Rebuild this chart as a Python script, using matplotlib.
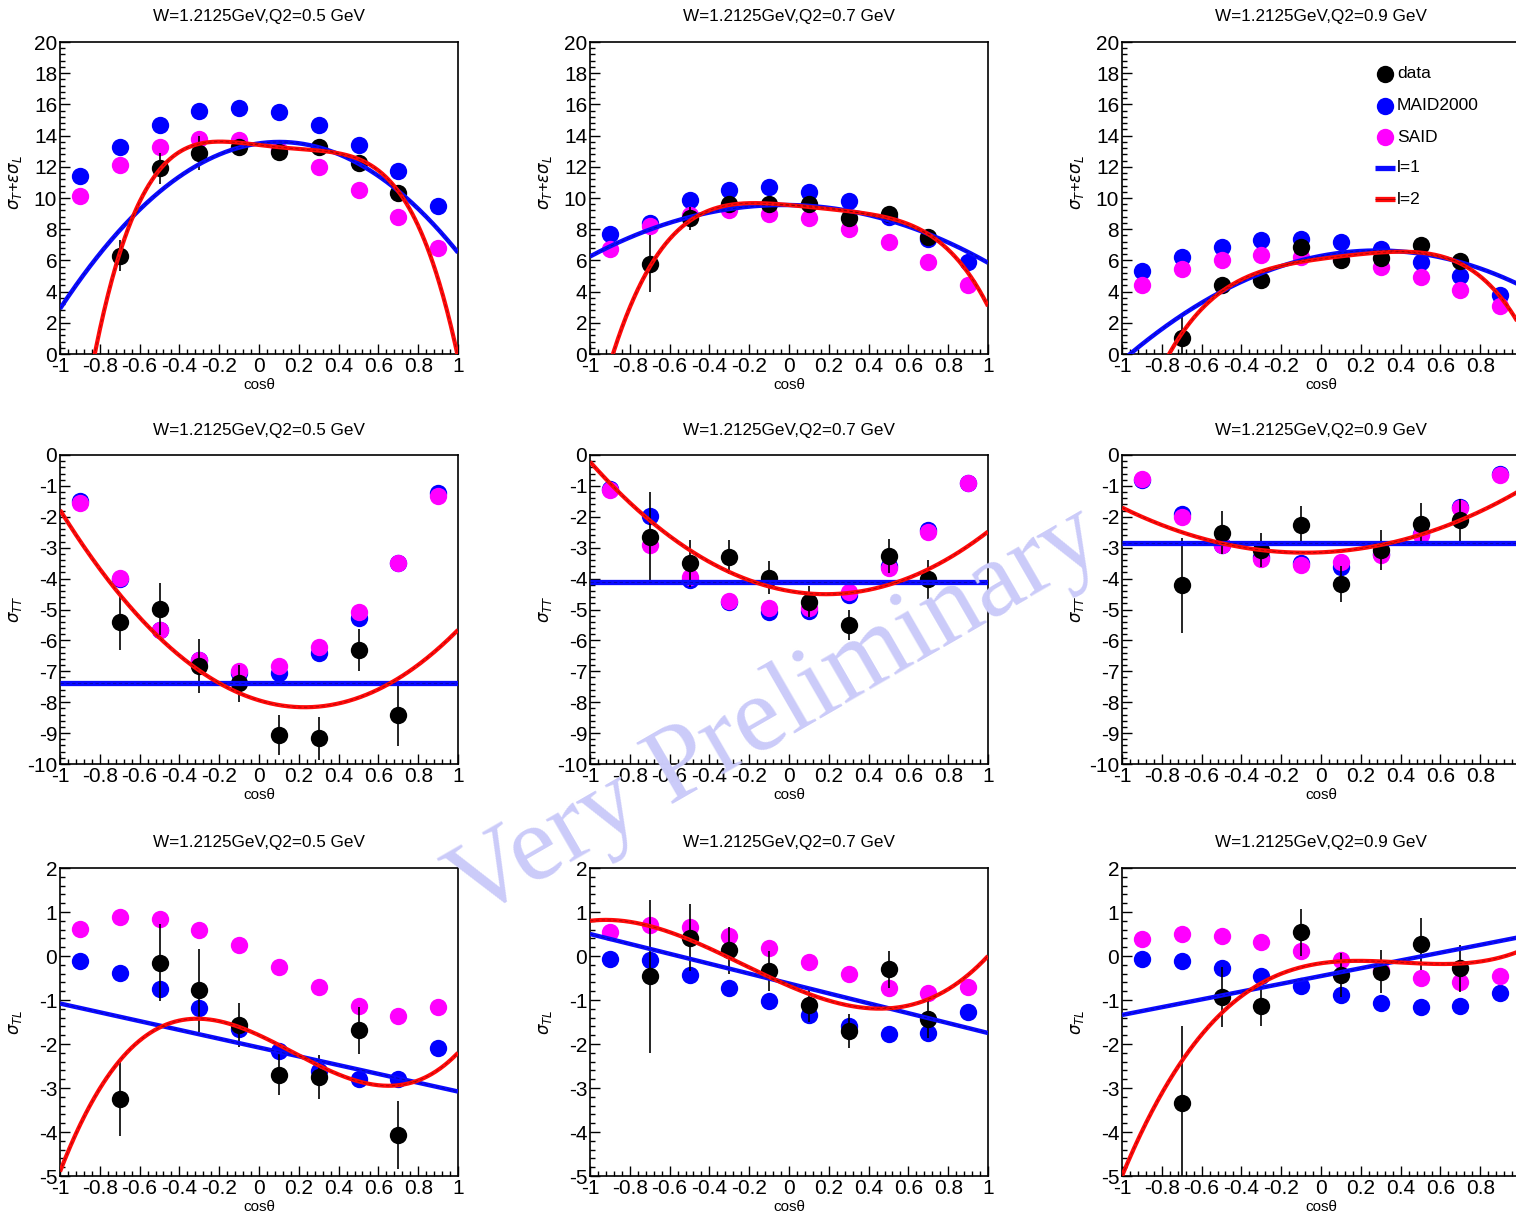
import numpy as np
import matplotlib
matplotlib.use("Agg")
import matplotlib.pyplot as plt
from matplotlib.ticker import MultipleLocator, FuncFormatter
from matplotlib.lines import Line2D

plt.rcParams['font.family'] = ['Liberation Sans', 'DejaVu Sans']
plt.rcParams['axes.unicode_minus'] = False
plt.rcParams['mathtext.fontset'] = 'dejavusans'

nan = np.nan

# ---------------------------------------------------------------------------
# Angular bins (cos theta) and kinematics
# ---------------------------------------------------------------------------
cos_theta = [-0.9, -0.7, -0.5, -0.3, -0.1, 0.1, 0.3, 0.5, 0.7, 0.9]
w_value = "1.2125"
q2_values = ["0.5", "0.7", "0.9"]

# ---------------------------------------------------------------------------
# sigma_T + eps*sigma_L
# ---------------------------------------------------------------------------
sTL_data_q05 = [nan, 6.3, 11.9, 12.9, 13.3, 12.95, 13.3, 12.25, 10.35, nan]
sTL_err_q05 = [nan, 1.0, 1.0, 1.1, 0.3, 0.3, 0.3, 0.3, 0.4, nan]
sTL_maid_q05 = [11.4, 13.3, 14.7, 15.6, 15.8, 15.5, 14.7, 13.4, 11.7, 9.5]
sTL_said_q05 = [10.15, 12.1, 13.3, 13.8, 13.75, 13.1, 12.0, 10.5, 8.8, 6.8]
sTL_l1_q05 = [13.5, 1.8, -8.8]
sTL_l2_q05 = [13.4, -1.53, 0.33, 8.9, -21.3]

sTL_data_q07 = [nan, 5.8, 8.7, 9.6, 9.6, 9.6, 8.7, 9.0, 7.5, nan]
sTL_err_q07 = [nan, 1.85, 0.75, 0.4, 0.3, 0.3, 0.3, 0.3, 0.3, nan]
sTL_maid_q07 = [7.7, 8.4, 9.9, 10.5, 10.7, 10.4, 9.8, 8.8, 7.4, 5.9]
sTL_said_q07 = [6.7, 8.2, 8.9, 9.25, 9.0, 8.7, 8.0, 7.15, 5.9, 4.4]
sTL_l1_q07 = [9.55, -0.2, -3.5]
sTL_l2_q07 = [9.55, -1.155, -1.35, 5.42, -9.4]

sTL_data_q09 = [nan, 1.0, 4.45, 4.75, 6.85, 6.0, 6.15, 7.0, 5.95, nan]
sTL_err_q09 = [nan, 1.6, 0.45, 0.3, 0.3, 0.3, 0.3, 0.3, 0.3, nan]
sTL_maid_q09 = [5.3, 6.25, 6.85, 7.3, 7.4, 7.2, 6.75, 5.9, 5.0, 3.8]
sTL_said_q09 = [4.45, 5.45, 6.0, 6.35, 6.2, 6.1, 5.6, 4.95, 4.1, 3.05]
sTL_l1_q09 = [6.29, 2.43, -4.3]
sTL_l2_q09 = [6.1, 1.756, -1.52, 2.976, -7.52]

# ---------------------------------------------------------------------------
# sigma_TT
# ---------------------------------------------------------------------------
sTT_data_q05 = [nan, -5.39, -4.99, -6.83, -7.39, -9.06, -9.17, -6.31, -8.41, nan]
sTT_err_q05 = [nan, 0.93, 0.85, 0.88, 0.6, 0.65, 0.7, 0.68, 1.0, nan]
sTT_maid_q05 = [-1.5, -4.0, -5.65, -6.65, -7.05, -7.07, -6.42, -5.29, -3.48, -1.22]
sTT_said_q05 = [-1.54, -3.99, -5.66, -6.63, -6.99, -6.83, -6.2, -5.07, -3.5, -1.33]
sTT_l1_q05 = [-7.37]
sTT_l2_q05 = [-7.94, -1.94, 4.22]

sTT_data_q07 = [nan, -2.66, -3.51, -3.29, -3.97, -4.75, -5.5, -3.27, -4.02, nan]
sTT_err_q07 = [nan, 1.45, 0.75, 0.55, 0.53, 0.5, 0.5, 0.55, 0.63, nan]
sTT_maid_q07 = [-1.1, -1.97, -4.05, -4.75, -5.07, -5.05, -4.53, -3.59, -2.43, -0.9]
sTT_said_q07 = [-1.13, -2.91, -3.94, -4.71, -4.96, -4.96, -4.42, -3.67, -2.48, -0.92]
sTT_l1_q07 = [-4.1]
sTT_l2_q07 = [-4.40, -1.13, 3.05]

sTT_data_q09 = [nan, -4.22, -2.52, -3.08, -2.25, -4.18, -3.08, -2.22, -2.11, nan]
sTT_err_q09 = [nan, 1.53, 0.7, 0.55, 0.6, 0.58, 0.65, 0.67, 0.67, nan]
sTT_maid_q09 = [-0.8, -1.91, -2.9, -3.3, -3.5, -3.62, -3.2, -2.55, -1.68, -0.63]
sTT_said_q09 = [-0.79, -2.0, -2.92, -3.37, -3.55, -3.46, -3.24, -2.6, -1.73, -0.65]
sTT_l1_q09 = [-2.86]
sTT_l2_q09 = [-3.15, 0.275, 1.725]

# ---------------------------------------------------------------------------
# sigma_TL
# ---------------------------------------------------------------------------
sLT_data_q05 = [nan, -3.26, -0.15, -0.78, -1.56, -2.7, -2.76, -1.69, -4.06, nan]
sLT_err_q05 = [nan, 0.84, 0.87, 0.95, 0.5, 0.47, 0.5, 0.53, 0.77, nan]
sLT_maid_q05 = [-0.11, -0.38, -0.74, -1.18, -1.67, -2.15, -2.61, -2.79, -2.79, -2.1]
sLT_said_q05 = [0.61, 0.89, 0.84, 0.58, 0.26, -0.25, -0.70, -1.14, -1.37, -1.15]
sLT_l1_q05 = [-2.08, -1.0]
sLT_l2_q05 = [-1.8, -2.08, -1.75, 3.43]

sLT_data_q07 = [nan, -0.46, 0.42, 0.13, -0.34, -1.12, -1.71, -0.30, -1.44, nan]
sLT_err_q07 = [nan, 1.74, 0.77, 0.54, 0.46, 0.37, 0.39, 0.42, 0.42, nan]
sLT_maid_q07 = [-0.07, -0.10, -0.43, -0.72, -1.03, -1.35, -1.6, -1.77, -1.76, -1.28]
sLT_said_q07 = [0.54, 0.71, 0.67, 0.46, 0.19, -0.13, -0.42, -0.72, -0.83, -0.70]
sLT_l1_q07 = [-0.625, -1.125]
sLT_l2_q07 = [-0.68, -1.947, 1.08, 1.547]

sLT_data_q09 = [nan, -3.33, -0.94, -1.13, 0.54, -0.43, -0.36, 0.27, -0.28, nan]
sLT_err_q09 = [nan, 1.73, 0.68, 0.45, 0.53, 0.5, 0.49, 0.59, 0.54, nan]
sLT_maid_q09 = [-0.07, -0.12, -0.27, -0.45, -0.69, -0.89, -1.06, -1.15, -1.13, -0.85]
sLT_said_q09 = [0.39, 0.5, 0.46, 0.31, 0.12, -0.09, -0.32, -0.5, -0.6, -0.45]
sLT_l1_q09 = [-0.455, 0.885]
sLT_l2_q09 = [-0.165, 0.653, -2.278, 1.904]

# ---------------------------------------------------------------------------
# Figure layout (pixel geometry of the 3x3 canvas)
# ---------------------------------------------------------------------------
FIG_W, FIG_H = 1516, 1215
fig = plt.figure(figsize=(FIG_W / 100, FIG_H / 100), dpi=100)
fig.patch.set_facecolor('white')

col_left = [60, 590, 1122]
col_width = 398
row_top = [42, 455, 868]
row_height = [312, 309, 308]

rows = [
    dict(label=r'$\sigma_{T}$+$\varepsilon\sigma_{L}$', ylim=(0, 20), major=2, minor=0.4,
         panels=[(sTL_data_q05, sTL_err_q05, sTL_maid_q05, sTL_said_q05, sTL_l1_q05, sTL_l2_q05),
                 (sTL_data_q07, sTL_err_q07, sTL_maid_q07, sTL_said_q07, sTL_l1_q07, sTL_l2_q07),
                 (sTL_data_q09, sTL_err_q09, sTL_maid_q09, sTL_said_q09, sTL_l1_q09, sTL_l2_q09)]),
    dict(label=r'$\sigma_{TT}$', ylim=(-10, 0), major=1, minor=0.2,
         panels=[(sTT_data_q05, sTT_err_q05, sTT_maid_q05, sTT_said_q05, sTT_l1_q05, sTT_l2_q05),
                 (sTT_data_q07, sTT_err_q07, sTT_maid_q07, sTT_said_q07, sTT_l1_q07, sTT_l2_q07),
                 (sTT_data_q09, sTT_err_q09, sTT_maid_q09, sTT_said_q09, sTT_l1_q09, sTT_l2_q09)]),
    dict(label=r'$\sigma_{TL}$', ylim=(-5, 2), major=1, minor=0.2,
         panels=[(sLT_data_q05, sLT_err_q05, sLT_maid_q05, sLT_said_q05, sLT_l1_q05, sLT_l2_q05),
                 (sLT_data_q07, sLT_err_q07, sLT_maid_q07, sLT_said_q07, sLT_l1_q07, sLT_l2_q07),
                 (sLT_data_q09, sLT_err_q09, sLT_maid_q09, sLT_said_q09, sLT_l1_q09, sLT_l2_q09)]),
]

MAID_COLOR = '#0000ff'
SAID_COLOR = '#ff00ff'
L1_COLOR = '#0a0aff'
L2_COLOR = '#ff0a0a'
MS = 12.5
xfit = np.linspace(-1, 1, 400)


def tick_text(v, pos):
    return '%g' % round(v, 6)


def tick_text_no_end(v, pos):
    # the right-hand column runs past the canvas edge, so its last label is not drawn
    return '' if v > 0.99 else '%g' % round(v, 6)


def fig_xy(px, py):
    return px / FIG_W, 1 - py / FIG_H


def draw_fit(ax, coeffs, color, lw):
    yfit = np.polynomial.polynomial.polyval(xfit, coeffs)
    ax.plot(xfit, yfit, color=color, lw=lw, zorder=5, solid_capstyle='butt')
    ax.plot(xfit, yfit, color='k', lw=0.6, alpha=0.35, ls=(0, (4, 3)), zorder=6)


for r, row in enumerate(rows):
    for c, (data, err, maid, said, l1, l2) in enumerate(row['panels']):
        x0, y0 = fig_xy(col_left[c], row_top[r] + row_height[r])
        ax = fig.add_axes([x0, y0, col_width / FIG_W, row_height[r] / FIG_H])
        ax.set_xlim(-1, 1)
        ax.set_ylim(*row['ylim'])

        ax.plot(cos_theta, maid, 'o', color=MAID_COLOR, ms=MS, mew=0, zorder=2)
        ax.plot(cos_theta, said, 'o', color=SAID_COLOR, ms=MS, mew=0, zorder=3)
        ax.errorbar(cos_theta, data, yerr=err, fmt='o', color='k', ms=MS, mew=0,
                    elinewidth=1.2, capsize=4.5, capthick=1.4, zorder=4)

        draw_fit(ax, l1, L1_COLOR, 3.2 if len(l1) > 1 else 3.8)
        draw_fit(ax, l2, L2_COLOR, 3.0)

        ax.xaxis.set_major_locator(MultipleLocator(0.2))
        ax.xaxis.set_minor_locator(MultipleLocator(0.04))
        ax.yaxis.set_major_locator(MultipleLocator(row['major']))
        ax.yaxis.set_minor_locator(MultipleLocator(row['minor']))
        ax.xaxis.set_major_formatter(FuncFormatter(tick_text_no_end if c == 2 else tick_text))
        ax.yaxis.set_major_formatter(FuncFormatter(tick_text))
        ax.tick_params(which='both', direction='in', top=False, right=False,
                       labelsize=15, width=1.0, color='k')
        ax.tick_params(which='major', length=7, pad=2)
        ax.tick_params(which='minor', length=3.5)
        for sp in ax.spines.values():
            sp.set_linewidth(1.2)

        h = row_height[r]
        ax.text(0.5, 1 + 25 / h, 'W=%sGeV,Q2=%s GeV' % (w_value, q2_values[c]),
                transform=ax.transAxes, ha='center', va='center', fontsize=12.3)
        ax.text(0.5, -31 / h, 'cos\u03b8', transform=ax.transAxes,
                ha='center', va='center', fontsize=11)
        ax.text(-45 / col_width, 0.5 if r else 0.55, row['label'], transform=ax.transAxes,
                rotation=90, ha='center', va='center', fontsize=12)

# Legend drawn into the upper right panel
leg_x_marker = 1385
leg_x_text = 1397
leg_rows = [74, 106, 137, 168, 199]
for (lbl, color), py in zip([('data', 'k'), ('MAID2000', MAID_COLOR), ('SAID', SAID_COLOR)], leg_rows[:3]):
    mx, my = fig_xy(leg_x_marker, py)
    fig.add_artist(Line2D([mx], [my], marker='o', color=color, ms=MS, mew=0, ls='none'))
    tx, ty = fig_xy(leg_x_text, py)
    fig.text(tx, ty, lbl, ha='left', va='center', fontsize=12.5)
for (lbl, color), py in zip([('l=1', L1_COLOR), ('l=2', L2_COLOR)], leg_rows[3:]):
    ax_, ay_ = fig_xy(1375, py)
    bx_, _ = fig_xy(1395, py)
    fig.add_artist(Line2D([ax_, bx_], [ay_, ay_], color=color, lw=3.8, solid_capstyle='butt'))
    if lbl == 'l=2':
        fig.add_artist(Line2D([ax_, bx_], [ay_, ay_], color='k', lw=0.6, alpha=0.4))
    tx, ty = fig_xy(leg_x_text, py)
    fig.text(tx, ty, lbl, ha='left', va='center', fontsize=12.5)

# Watermark across the middle of the canvas
wx, wy = fig_xy(776, 714)
fig.text(wx, wy, 'Very Preliminary', rotation=30, rotation_mode='anchor',
         ha='center', va='center', fontsize=77, family='Liberation Serif',
         color='#cbcbf9', zorder=100)

fig.savefig('out.png', dpi=100)
